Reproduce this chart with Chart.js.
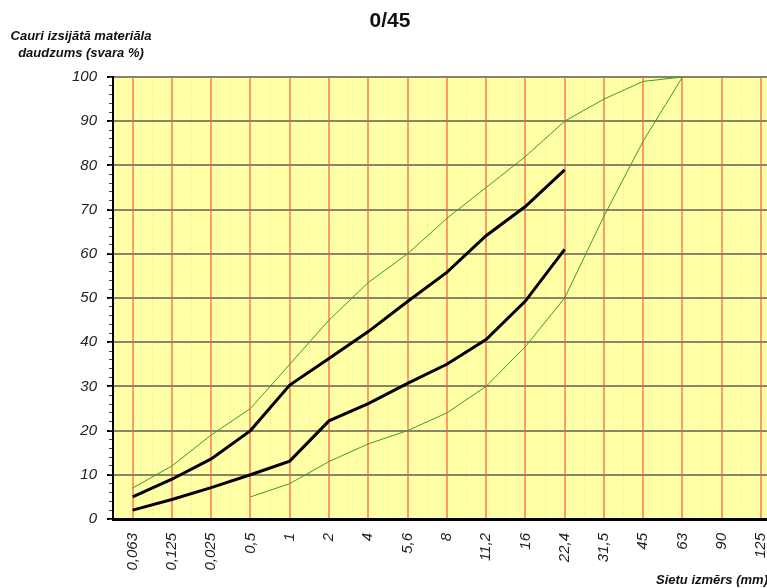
<!DOCTYPE html>
<html>
<head>
<meta charset="utf-8">
<script src="https://cdn.jsdelivr.net/npm/chart.js"></script>
<style>
  html, body { margin: 0; padding: 0; overflow: hidden; background: #fff; }
</style>
</head>
<body>
<canvas id="chart-canvas" width="793" height="588"></canvas>
<script>
// sieve sizes (labels as on the original sheet)
const sieveLabels = ["0,063", "0,125", "0,025", "0,5", "1", "2", "4", "5,6", "8", "11,2", "16", "22,4", "31,5", "45", "63", "90", "125"];

// grading envelope (green) and measured curves (black), % passing
const upperLimit = [7, 12, 19, 25, 35, 45, 53.5, 60, 68, 75, 82, 90, 95, 99, 100, null, null];
const lowerLimit = [null, null, null, 5, 8, 13, 17, 20, 24, 30, 39, 50, 68.5, 85.5, 100, null, null];
const upperCurve = [5, 9, 13.6, 20, 30.3, 36.3, 42.4, 49.2, 55.8, 64.1, 70.7, 79, null, null, null, null, null];
const lowerCurve = [2, 4.4, 7.1, 10, 13.1, 22.2, 26.1, 30.7, 35, 40.6, 49.3, 61, null, null, null, null, null];
const baseMark = [null, null, null, null, null, null, null, null, null, null, null, null, null, 0, 0, null, null];

const chartTitle = "0/45";
const yTitle = ["Cauri izsijātā materiāla", "daudzums (svara %)"];
const xTitle = "Sietu izmērs (mm)";

const FONT = '"Liberation Sans", Arial, sans-serif';

const decor = {
    id: "decor",
    beforeDraw(chart) {
        const { ctx, chartArea: a } = chart;
        ctx.save();
        ctx.fillStyle = "#ffffa6";
        ctx.fillRect(a.left, a.top, a.right - a.left, a.bottom - a.top);
        ctx.restore();
    },
    afterDraw(chart) {
        const ctx = chart.ctx;
        ctx.save();
        ctx.fillStyle = "#111";
        ctx.textAlign = "center";
        ctx.textBaseline = "middle";
        ctx.font = "bold 21px " + FONT;
        ctx.fillText(chartTitle, 390, 21);
        ctx.font = "italic bold 13px " + FONT;
        ctx.fillText(yTitle[0], 81, 36);
        ctx.fillText(yTitle[1], 81, 53);
        ctx.textAlign = "left";
        ctx.fillText(xTitle, 656, 580);
        ctx.restore();
    }
};

function line(data, color, width) {
    return {
        data: data,
        borderColor: color,
        borderWidth: width,
        pointRadius: 0,
        tension: 0,
        fill: false,
        spanGaps: false
    };
}

const ctx = document.getElementById("chart-canvas").getContext("2d");
new Chart(ctx, {
    type: "line",
    data: {
        labels: sieveLabels,
        datasets: [
            line(upperLimit, "#3a9a32", 1),
            line(lowerLimit, "#3a9a32", 1),
            line(upperCurve, "#000", 3),
            line(lowerCurve, "#000", 3),
            line(baseMark, "#000", 2)
        ]
    },
    options: {
        responsive: false,
        animation: false,
        layout: { padding: { top: 77, left: 0, right: 0, bottom: 0 } },
        plugins: {
            legend: { display: false },
            title: { display: false },
            tooltip: { enabled: false }
        },
        scales: {
            x: {
                offset: true,
                grid: { offset: false, color: "#ff9966", lineWidth: 2, drawTicks: false },
                border: { color: "#000", width: 3 },
                ticks: {
                    autoSkip: false,
                    minRotation: 90,
                    maxRotation: 90,
                    padding: 14,
                    color: "#222",
                    font: { family: FONT, size: 15, style: "italic" }
                },
                afterFit(scale) { scale.height = 69; }
            },
            x2: {
                type: "category",
                position: "bottom",
                offset: true,
                grid: { offset: true, color: "#e6e3a8", lineWidth: 1, drawTicks: false },
                border: { display: false, dash: [1, 2] },
                ticks: { display: false },
                afterFit(scale) { scale.height = 0; }
            },
            y: {
                min: 0,
                max: 100,
                weight: 0,
                grid: { color: "#8a8462", lineWidth: 2, tickLength: 6, tickColor: "#000" },
                border: { color: "#000", width: 2 },
                ticks: {
                    stepSize: 10,
                    padding: 10,
                    color: "#222",
                    font: { family: FONT, size: 15, style: "italic" }
                },
                afterFit(scale) { scale.width = 113; }
            },
            y2: {
                min: 0,
                max: 100,
                position: "left",
                weight: -1,
                grid: { drawOnChartArea: false, tickLength: 4, tickColor: "#444", lineWidth: 1 },
                border: { display: false },
                ticks: { stepSize: 2, display: false },
                afterFit(scale) { scale.width = 0; }
            }
        }
    },
    plugins: [decor]
});
</script>
</body>
</html>
